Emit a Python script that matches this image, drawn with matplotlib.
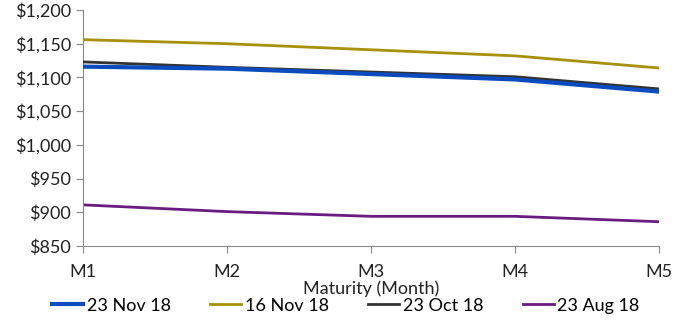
import matplotlib.pyplot as plt
from matplotlib.ticker import FuncFormatter

months = ["M1", "M2", "M3", "M4", "M5"]
nov23 = [1116, 1113, 1105, 1097, 1079]
nov16 = [1156, 1150, 1141, 1132, 1114]
oct23 = [1123, 1115, 1108, 1101, 1083]
aug23 = [911, 901, 894, 894, 886]

plt.rcParams['font.family'] = ['Lato', 'DejaVu Sans']

fig = plt.figure(figsize=(6.92, 3.2), dpi=100)
ax = fig.add_axes([83/692, 1 - 246/320, (659-83)/692, (246-10)/320])

x = range(len(months))
ax.plot(x, nov23, color='#0a4bc0', lw=3, label='23 Nov 18', zorder=4)
ax.plot(x, nov16, color='#a8900a', lw=2, label='16 Nov 18')
ax.plot(x, oct23, color='#333333', lw=2, label='23 Oct 18', zorder=3)
ax.plot(x, aug23, color='#6a1b7f', lw=2, label='23 Aug 18')

ax.set_xlim(0, len(months) - 1)
ax.set_ylim(850, 1200)
ax.set_yticks(range(850, 1201, 50))
ax.yaxis.set_major_formatter(FuncFormatter(lambda v, p: f"${v:,.0f}"))
ax.set_xticks(list(x))
ax.set_xticklabels(months)

for s in ['top', 'right']:
    ax.spines[s].set_visible(False)
for s in ['left', 'bottom']:
    ax.spines[s].set_color('#888888')
ax.tick_params(colors='#888888', labelcolor='#222222', labelsize=13, length=5)
ax.tick_params(axis='x', pad=8)
ax.set_xlabel('Maturity (Month)', fontsize=13, color='#222222', labelpad=0)

fig.legend(loc='center', bbox_to_anchor=(0.5, 0.045), ncol=4, frameon=False,
           fontsize=13, handlelength=1.7, handletextpad=0.2, columnspacing=2.2,
           borderaxespad=0, borderpad=0)

fig.savefig('out.png', dpi=100)
